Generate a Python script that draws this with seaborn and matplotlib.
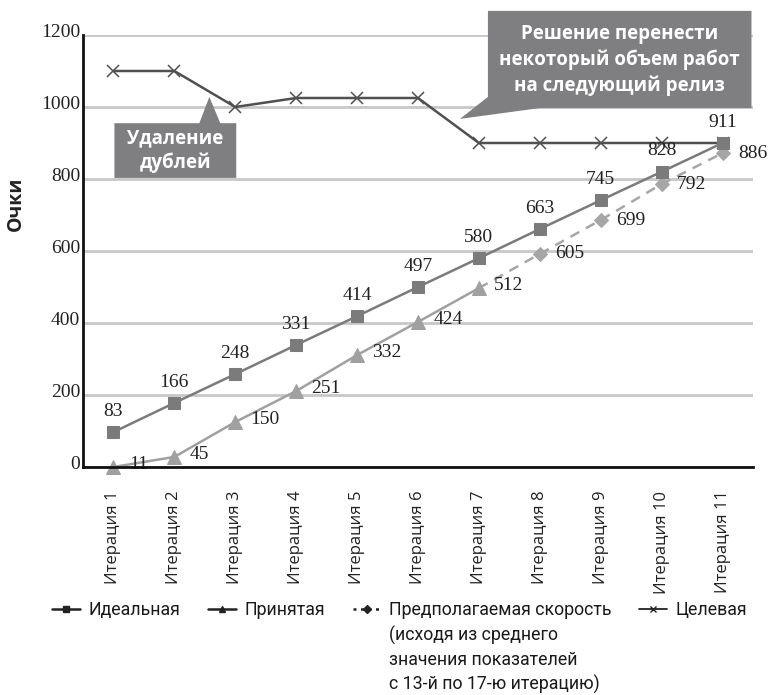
import numpy as np
import pandas as pd
import matplotlib
matplotlib.use('Agg')
import matplotlib.pyplot as plt
import seaborn as sns
from matplotlib.lines import Line2D
from matplotlib.patches import Polygon
from matplotlib.transforms import ScaledTranslation

# Dados
iteracoes = ['Итерация %d' % i for i in range(1, 12)]
ideal = [97, 178, 258, 339, 419, 500, 580, 661, 741, 820, 900]
ideal_rotulos = [83, 166, 248, 331, 414, 497, 580, 663, 745, 828, 911]
aceita = [0, 28, 125, 211, 311, 403, 497]
aceita_rotulos = [11, 45, 150, 251, 332, 424, 512]
# projecao comeca no ultimo ponto da aceita (iteracao 7)
projecao = [497, 592, 686, 786, 872]
projecao_rotulos = [605, 699, 792, 886]
meta = [1100, 1100, 1000, 1025, 1025, 1025, 900, 900, 900, 900, 900]

nomes_legenda = ['Идеальная', 'Принятая', 'Предполагаемая скорость', 'Целевая']
nota_legenda = ['(исходя из среднего', 'значения показателей', 'с 13-й по 17-ю итерацию)']

df_ideal = pd.DataFrame({'x': np.arange(len(ideal)), 'y': ideal})
df_aceita = pd.DataFrame({'x': np.arange(len(aceita)), 'y': aceita})
df_proj = pd.DataFrame({'x': np.arange(6, 6 + len(projecao)), 'y': projecao})
df_meta = pd.DataFrame({'x': np.arange(len(meta)), 'y': meta})

sns.set_style('white')
plt.rcParams['font.family'] = ['Open Sans', 'DejaVu Sans']

fig = plt.figure(figsize=(7.7, 6.95), dpi=100)
ax = fig.add_axes([83/770, 1 - 467/695, 670/770, 432/695])

cor_ideal = '#7b7b7b'
cor_aceita = '#a0a0a0'
cor_proj = '#a6a6a6'
cor_meta = '#505050'

sns.lineplot(data=df_meta, x='x', y='y', ax=ax, color=cor_meta, lw=1.8,
             marker='x', markersize=9, markeredgewidth=1.1, markeredgecolor=cor_meta, zorder=3)
sns.lineplot(data=df_proj, x='x', y='y', ax=ax, color=cor_proj, lw=1.8, linestyle=(0, (4, 3)),
             marker='D', markersize=7, markevery=list(range(1, len(projecao))),
             markeredgecolor=cor_proj, zorder=4)
sns.lineplot(data=df_aceita, x='x', y='y', ax=ax, color=cor_aceita, lw=1.8,
             marker='^', markersize=10, markeredgecolor=cor_aceita, zorder=5, clip_on=False)
sns.lineplot(data=df_ideal, x='x', y='y', ax=ax, color=cor_ideal, lw=1.8,
             marker='s', markersize=8, markeredgecolor=cor_ideal, zorder=6)

# Rotulos dos pontos
fonte_num = {'family': 'Liberation Serif', 'size': 14, 'color': '#222222'}
for xi, yi, r in zip(df_ideal['x'], ideal, ideal_rotulos):
    ax.annotate(str(r), (xi, yi), xytext=(0, 15), textcoords='offset points',
                ha='center', va='center', zorder=7, **fonte_num)
for xi, yi, r in zip(df_aceita['x'], aceita, aceita_rotulos):
    ax.annotate(str(r), (xi, yi), xytext=(11, 2), textcoords='offset points',
                ha='left', va='center', zorder=7, **fonte_num)
for xi, yi, r in zip(df_proj['x'][1:], projecao[1:], projecao_rotulos):
    ax.annotate(str(r), (xi, yi), xytext=(11, 0), textcoords='offset points',
                ha='left', va='center', zorder=7, **fonte_num)

# Eixos
ax.set_xlim(-0.5, len(iteracoes) - 0.5)
ax.set_ylim(0, 1200)
ax.set_yticks(range(0, 1201, 200))
ax.set_yticklabels([str(v) for v in range(0, 1201, 200)], **fonte_num)
ax.tick_params(axis='y', length=0, pad=2)
for lab in ax.get_yticklabels():
    lab.set_transform(lab.get_transform() + ScaledTranslation(0, 3/72, fig.dpi_scale_trans))

ax.set_xticks(range(len(iteracoes)))
ax.set_xticklabels(iteracoes, rotation=90, fontsize=12, color='#222222', va='top')
ax.set_xticks(np.arange(-0.5, len(iteracoes)), minor=True)
ax.tick_params(axis='x', which='major', length=0, pad=17)
ax.tick_params(axis='x', which='minor', length=7, width=1.8, color='black', direction='out')

ax.set_xlabel('')
ax.set_ylabel('Очки', fontsize=14, fontweight='bold', color='#222222', family='Open Sans')
ax.yaxis.set_label_coords(-0.085, 0.61)

ax.grid(axis='y', color='#c8c8c8', lw=2)
ax.grid(axis='x', visible=False)
ax.set_axisbelow(True)
for lado in ['top', 'right']:
    ax.spines[lado].set_visible(False)
for lado in ['left', 'bottom']:
    ax.spines[lado].set_color('#111111')
    ax.spines[lado].set_linewidth(2)
    ax.spines[lado].set_zorder(8)

# Caixas de comentario
cor_caixa = '#7f7f81'
caixa1 = [(0.016, 955), (1.41, 955), (1.574, 1028), (1.754, 955), (2.016, 955), (2.016, 803), (0.016, 803)]
caixa2 = [(6.148, 1267), (10.475, 1267), (10.475, 997), (7.0, 997), (5.689, 967), (6.148, 1028)]
for pts in [caixa1, caixa2]:
    ax.add_patch(Polygon(pts, closed=True, facecolor=cor_caixa, edgecolor='none', zorder=9, clip_on=False))
ax.text(1.016, 879, 'Удаление\nдублей', ha='center', va='center', color='white',
        fontsize=13.5, fontweight='bold', linespacing=1.3, zorder=10)
ax.text(8.31, 1130, 'Решение перенести\nнекоторый объем работ\nна следующий релиз', ha='center', va='center',
        color='white', fontsize=13.5, fontweight='bold', linespacing=1.35, zorder=10)

# Legenda
cor_leg = '#222222'
handles = [
    Line2D([], [], color=cor_leg, lw=1.8, marker='s', markersize=5),
    Line2D([], [], color=cor_leg, lw=1.8, marker='^', markersize=5),
    Line2D([], [], color=cor_leg, lw=1.8, linestyle=(0, (1.2, 1.8)), marker='D', markersize=4.5),
    Line2D([], [], color=cor_leg, lw=1.3, marker='x', markersize=5, markeredgewidth=1),
]
leg = fig.legend(handles, nomes_legenda, loc='center left', bbox_to_anchor=(52/770, 1 - 610/695),
                 ncol=4, frameon=False, handlelength=1.6, handletextpad=0.45, columnspacing=1.55,
                 borderpad=0, borderaxespad=0, prop={'family': 'Roboto', 'size': 12.8})
for t in leg.get_texts():
    t.set_color('#1a1a1a')

fig.canvas.draw()
bb = leg.get_texts()[2].get_window_extent()
x0 = bb.x0 / fig.bbox.width
for i, linha in enumerate(nota_legenda):
    fig.text(x0, 1 - (635.5 + 24.5*i)/695, linha, ha='left', va='center',
             family='Roboto', fontsize=12.8, color='#1a1a1a')

fig.savefig('out.png', dpi=100)
